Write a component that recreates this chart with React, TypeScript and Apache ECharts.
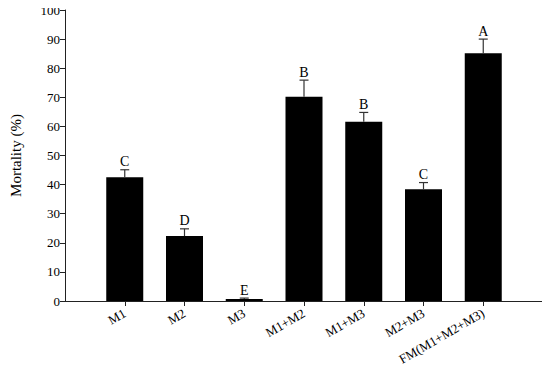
import React, { useEffect, useRef } from "react";
import * as echarts from "echarts";

const categories = ["M1", "M2", "M3", "M1+M2", "M1+M3", "M2+M3", "FM(M1+M2+M3)"];
const means = [42.5, 22.3, 0.7, 70.2, 61.6, 38.4, 85.1];
const errors = [2.6, 2.5, 0.3, 5.7, 3.2, 2.3, 4.9];
const letters = ["C", "D", "E", "B", "B", "C", "A"];
const yTicks = [0, 10, 20, 30, 40, 50, 60, 70, 80, 90, 100];

const FONT = "'Liberation Serif', 'DejaVu Serif', serif";

export default function App() {
  const ref = useRef<HTMLDivElement>(null);
  useEffect(() => {
    if (!ref.current) return;
    const chart = echarts.init(ref.current, undefined, { renderer: "svg" });
    const axisCats = ["", ...categories, ""];
    const barData = [null, ...means, null];
    const errData = categories.map((_, i) => [i + 1, means[i], errors[i]]);
    chart.setOption({
      animation: false,
      grid: { left: 60, top: 10, right: 7, bottom: 71, containLabel: false },
      xAxis: {
        type: "category",
        data: axisCats,
        boundaryGap: false,
        axisLine: { lineStyle: { color: "#222", width: 1 } },
        axisTick: {
          show: true,
          length: 5,
          interval: (index: number) => index > 0 && index < axisCats.length - 1,
          lineStyle: { color: "#222" },
        },
        axisLabel: {
          interval: 0,
          rotate: 30,
          fontFamily: FONT,
          fontSize: 13,
          color: "#000",
          margin: 11,
        },
        splitLine: { show: false },
      },
      yAxis: {
        type: "value",
        min: yTicks[0],
        max: yTicks[yTicks.length - 1],
        interval: 10,
        name: "Mortality (%)",
        nameLocation: "middle",
        nameGap: 42,
        nameTextStyle: { fontFamily: FONT, fontSize: 15, color: "#000" },
        axisLine: { show: true, lineStyle: { color: "#222", width: 1 } },
        axisTick: { show: true, length: 5, lineStyle: { color: "#222" } },
        axisLabel: { fontFamily: FONT, fontSize: 13, color: "#000", margin: 5 },
        splitLine: { show: false },
      },
      series: [
        {
          type: "bar",
          data: barData,
          barWidth: 37,
          itemStyle: { color: "#000" },
          silent: true,
        },
        {
          type: "custom",
          data: errData,
          silent: true,
          z: 5,
          renderItem: (params: any, api: any) => {
            const x = api.value(0);
            const m = api.value(1);
            const e = api.value(2);
            const label = letters[params.dataIndex];
            const p0 = api.coord([x, m]);
            const p1 = api.coord([x, m + e]);
            const half = 4.5;
            return {
              type: "group",
              children: [
                {
                  type: "line",
                  shape: { x1: p0[0], y1: p0[1], x2: p1[0], y2: p1[1] },
                  style: { stroke: "#333", lineWidth: 1.2 },
                },
                {
                  type: "line",
                  shape: { x1: p1[0] - half, y1: p1[1], x2: p1[0] + half, y2: p1[1] },
                  style: { stroke: "#333", lineWidth: 1.2 },
                },
                {
                  type: "text",
                  x: p1[0],
                  y: p1[1] - 1,
                  style: {
                    text: label,
                    fontFamily: FONT,
                    fontSize: 14,
                    fill: "#000",
                    align: "center",
                    verticalAlign: "bottom",
                  },
                },
              ],
            };
          },
        },
      ],
    });
    return () => chart.dispose();
  }, []);
  return <div ref={ref} style={{ width: 550, height: 372, margin: -8 }} />;
}
